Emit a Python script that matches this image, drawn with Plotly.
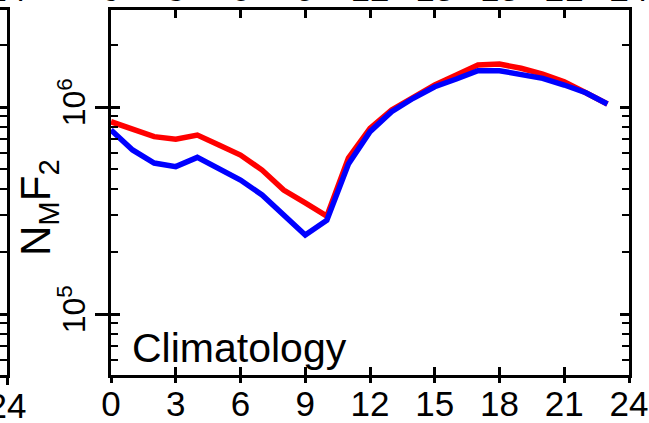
import plotly.graph_objects as go

# ---- data ----
hours = list(range(24))
red_vals = [8.49e5, 7.80e5, 7.19e5, 6.98e5, 7.32e5, 6.55e5, 5.86e5, 4.96e5, 3.97e5, 3.44e5,
            2.97e5, 5.67e5, 7.89e5, 9.67e5, 1.117e6, 1.277e6, 1.428e6, 1.596e6, 1.613e6,
            1.538e6, 1.443e6, 1.325e6, 1.172e6, 1.034e6]
blue_vals = [7.74e5, 6.20e5, 5.36e5, 5.15e5, 5.71e5, 5.06e5, 4.44e5, 3.76e5, 3.01e5, 2.41e5,
             2.84e5, 5.30e5, 7.60e5, 9.49e5, 1.102e6, 1.253e6, 1.365e6, 1.497e6, 1.497e6,
             1.443e6, 1.376e6, 1.277e6, 1.172e6, 1.034e6]
x_ticks = [0, 3, 6, 9, 12, 15, 18, 21, 24]
x_ticktext = [str(v) for v in x_ticks]
y_ticks = [1e5, 1e6]
y_ticktext = ["10<sup>5</sup>", "10<sup>6</sup>"]
y_minor = [m * 10 ** k for k in (4, 5, 6) for m in range(2, 10)]
label_text = "Climatology"
y_title = "N<sub>M</sub>F<sub>2</sub>"

# ---- layout constants ----
W, H = 649, 423
ML, MR, MT, MB = 0, 20, 10, 48
PW = W - ML - MR
main_left = 111
yr = [4.7053, 6.4686]
FONT = "Liberation Sans, Arial, sans-serif"
LW = 2.5
left_w = 7
hour_px = (PW - main_left) / 24.0

fig = go.Figure()
fig.add_trace(go.Scatter(x=hours, y=red_vals, mode="lines",
                         line=dict(color="#ff0000", width=5.5), xaxis="x", yaxis="y"))
fig.add_trace(go.Scatter(x=hours, y=blue_vals, mode="lines",
                         line=dict(color="#0000ff", width=5.5), xaxis="x", yaxis="y"))
# helper empty traces so overlay / side axes render
fig.add_trace(go.Scatter(x=[None], y=[None], xaxis="x3", yaxis="y3", hoverinfo="skip"))
fig.add_trace(go.Scatter(x=[None], y=[None], xaxis="x4", yaxis="y", hoverinfo="skip"))
fig.add_trace(go.Scatter(x=[None], y=[None], xaxis="x2", yaxis="y2", hoverinfo="skip"))
fig.add_trace(go.Scatter(x=[None], y=[None], xaxis="x5", yaxis="y2", hoverinfo="skip"))

common = dict(showgrid=False, zeroline=False, ticklabeloverflow="allow", automargin=False)
tickfont = dict(family=FONT, size=35, color="black")

fig.update_layout(
    width=W, height=H, margin=dict(l=ML, r=MR, t=MT, b=MB, autoexpand=False),
    paper_bgcolor="white", plot_bgcolor="rgba(0,0,0,0)", showlegend=False,
    xaxis=dict(domain=[main_left / PW, 1], range=[0, 24], anchor="y",
               showline=True, linewidth=LW, linecolor="black", mirror="ticks",
               ticks="inside", ticklen=8, tickwidth=LW, tickcolor="black",
               tickmode="array", tickvals=x_ticks, showticklabels=False, **common),
    xaxis3=dict(overlaying="x", anchor="y", side="bottom", range=[0, 24],
                showline=False, ticks="outside", ticklen=7, tickwidth=LW, tickcolor="black",
                tickmode="array", tickvals=x_ticks, ticktext=x_ticktext, tickfont=tickfont,
                ticklabelstandoff=-9, **common),
    xaxis4=dict(overlaying="x", anchor="y", side="top", range=[0, 24],
                showline=False, ticks="", tickmode="array", tickvals=x_ticks,
                ticktext=x_ticktext, tickfont=tickfont, ticklabelstandoff=1, **common),
    yaxis=dict(type="log", range=yr, anchor="x", domain=[0, 1],
               showline=True, linewidth=LW, linecolor="black", mirror="ticks",
               ticks="inside", ticklen=9, tickwidth=LW, tickcolor="black",
               tickmode="array", tickvals=y_ticks, showticklabels=False,
               minor=dict(ticks="inside", ticklen=7, tickwidth=2, tickcolor="black",
                          tickmode="array", tickvals=y_minor),
               **common),
    yaxis3=dict(type="log", range=yr, anchor="x", overlaying="y", side="left",
                showline=False, ticks="outside", ticklen=15, tickwidth=LW, tickcolor="black",
                tickmode="array", tickvals=y_ticks, ticktext=y_ticktext, tickangle=-90,
                tickfont=dict(family=FONT, size=32, color="black"),
                ticklabelstandoff=-3, **common),
    # partial neighbouring panel on the left
    xaxis2=dict(domain=[0, left_w / PW], range=[24 - left_w / hour_px, 24], anchor="y2",
                showline=True, linewidth=LW, linecolor="black", mirror=True,
                ticks="outside", ticklen=7, tickwidth=LW, tickcolor="black",
                tickmode="array", tickvals=[24], ticktext=["24"], tickfont=tickfont,
                ticklabelstandoff=-9, **common),
    xaxis5=dict(overlaying="x2", anchor="y2", side="top",
                range=[24 - left_w / hour_px, 24], showline=False, ticks="",
                tickmode="array", tickvals=[24], ticktext=["24"], tickfont=tickfont,
                ticklabelstandoff=1, **common),
    yaxis2=dict(type="log", range=yr, anchor="x2", side="right", domain=[0, 1],
                showline=True, linewidth=LW, linecolor="black",
                ticks="inside", ticklen=9, tickwidth=LW, tickcolor="black",
                tickmode="array", tickvals=y_ticks, showticklabels=False,
                minor=dict(ticks="inside", ticklen=7, tickwidth=2, tickcolor="black",
                           tickmode="array", tickvals=y_minor),
                **common),
    annotations=[
        dict(text=label_text, xref="paper", yref="paper", x=130 / PW, y=(375 - 348) / 365,
             xanchor="left", yanchor="middle", showarrow=False,
             font=dict(family=FONT, size=41, color="black")),
        dict(text=y_title, xref="paper", yref="paper", x=38 / PW, y=(375 - 208) / 365,
             xanchor="center", yanchor="middle", showarrow=False, textangle=-90,
             font=dict(family=FONT, size=42, color="black")),
    ],
)

fig.write_html("out.html")
